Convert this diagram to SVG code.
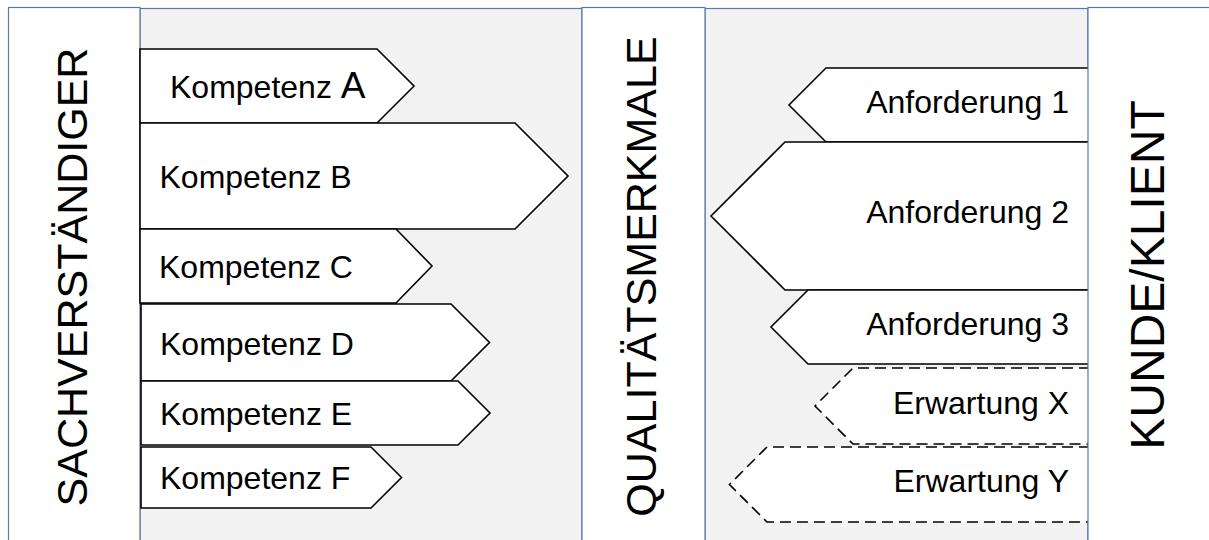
<svg xmlns="http://www.w3.org/2000/svg" width="1209" height="540" viewBox="0 0 1209 540">
  <style>
    .col { fill: #ffffff; stroke: #5a78a8; stroke-width: 1.2; }
    .panel { fill: #f2f2f2; stroke: #5a78a8; stroke-width: 1.2; }
    .tag { fill: #ffffff; stroke: #000000; stroke-width: 1.6; stroke-linejoin: miter; }
    .dashed { stroke-dasharray: 11 6; }
    .label { font-family: "Liberation Sans", Arial, sans-serif; font-size: 32px; fill: #000000; }
    .right { text-anchor: end; }
    .title { font-family: "Liberation Sans", Arial, sans-serif; fill: #000000; text-anchor: middle; }
  </style>

  <rect width="1209" height="540" fill="#ffffff"/>

  <!-- background panels -->
  <g id="panels">
    <rect class="panel" x="140" y="8.5" width="442" height="540"/>
    <rect class="panel" x="705" y="8.5" width="383" height="540"/>
  </g>

  <!-- left column -->
  <g id="sachverstaendiger">
    <rect class="col" x="8.5" y="7.5" width="131.5" height="540"/>
    <text class="title" font-size="43" transform="translate(87,277) rotate(-90)">SACHVERSTÄNDIGER</text>
  </g>

  <!-- middle column -->
  <g id="qualitaetsmerkmale">
    <rect class="col" x="582" y="7.5" width="123" height="540"/>
    <text class="title" font-size="43" transform="translate(655.5,276.5) rotate(-90)">QUALITÄTSMERKMALE</text>
  </g>

  <!-- competences, pointing right -->
  <g id="kompetenz-a">
    <polygon class="tag" points="140,49 377,49 414,86 377,123 140,123"/>
    <text class="label" x="170" y="97.5" font-size="31">Kompetenz <tspan font-size="37">A</tspan></text>
  </g>
  <g id="kompetenz-b">
    <polygon class="tag" points="140,123 515,123 568,176 515,229 140,229"/>
    <text class="label" x="159.5" y="187.5">Kompetenz B</text>
  </g>
  <g id="kompetenz-c">
    <polygon class="tag" points="140,229 396,229 432,266 396,303 140,303"/>
    <text class="label" x="159" y="278">Kompetenz C</text>
  </g>
  <g id="kompetenz-d">
    <polygon class="tag" points="141,304 451,304 489.5,342.5 451,381 141,381"/>
    <text class="label" x="160" y="355">Kompetenz D</text>
  </g>
  <g id="kompetenz-e">
    <polygon class="tag" points="141,381 458,381 490,413 458,445 141,445"/>
    <text class="label" x="160" y="425">Kompetenz E</text>
  </g>
  <g id="kompetenz-f">
    <polygon class="tag" points="141,447 371,447 401.5,477.5 371,508 141,508"/>
    <text class="label" x="160" y="489.3">Kompetenz F</text>
  </g>

  <!-- requirements and expectations, pointing left -->
  <g id="anforderung-1">
    <polygon class="tag" points="1090,68 826,68 789,105 826,142 1090,142"/>
    <text class="label right" x="1069" y="113.3">Anforderung 1</text>
  </g>
  <g id="anforderung-2">
    <polygon class="tag" points="1090,142 785,142 711,216 785,290 1090,290"/>
    <text class="label right" x="1069" y="223.3">Anforderung 2</text>
  </g>
  <g id="anforderung-3">
    <polygon class="tag" points="1090,290 808,290 771,327 808,364 1090,364"/>
    <text class="label right" x="1069" y="335">Anforderung 3</text>
  </g>
  <g id="erwartung-x">
    <polygon class="tag dashed" points="1090,368 853,368 815,406 853,444 1090,444"/>
    <text class="label right" x="1069" y="414">Erwartung X</text>
  </g>
  <g id="erwartung-y">
    <polygon class="tag dashed" points="1090,447 767,447 729.5,484.5 767,522 1090,522"/>
    <text class="label right" x="1069" y="491.7">Erwartung Y</text>
  </g>

  <!-- right column -->
  <g id="kunde-klient">
    <rect class="col" x="1088" y="7.5" width="130" height="540"/>
    <text class="title" font-size="48" transform="translate(1163.5,275) rotate(-90)">KUNDE/KLIENT</text>
  </g>

  <!-- no connectors in this figure -->
  <g id="connectors"/>
</svg>
